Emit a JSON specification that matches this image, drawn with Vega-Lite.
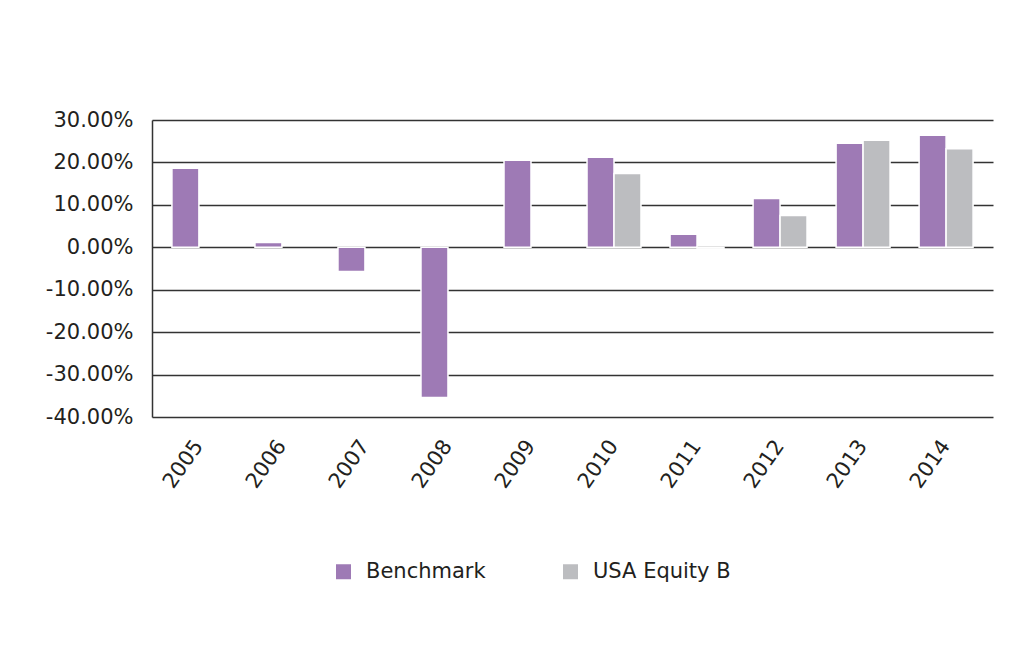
{
  "$schema": "https://vega.github.io/schema/vega-lite/v6.json",
  "autosize": {"type": "none"},
  "width": 841,
  "height": 297,
  "padding": {"left": 152, "top": 120, "right": 33, "bottom": 252},
  "background": "white",
  "data": {
    "values": [
      {"year": "2005", "series": "Benchmark", "ret": 0.186},
      {"year": "2006", "series": "Benchmark", "ret": 0.011},
      {"year": "2007", "series": "Benchmark", "ret": -0.057},
      {"year": "2008", "series": "Benchmark", "ret": -0.354},
      {"year": "2009", "series": "Benchmark", "ret": 0.205},
      {"year": "2010", "series": "Benchmark", "ret": 0.212},
      {"year": "2010", "series": "USA Equity B", "ret": 0.174},
      {"year": "2011", "series": "Benchmark", "ret": 0.031},
      {"year": "2011", "series": "USA Equity B", "ret": -0.002},
      {"year": "2012", "series": "Benchmark", "ret": 0.115},
      {"year": "2012", "series": "USA Equity B", "ret": 0.075},
      {"year": "2013", "series": "Benchmark", "ret": 0.245},
      {"year": "2013", "series": "USA Equity B", "ret": 0.252},
      {"year": "2014", "series": "Benchmark", "ret": 0.264},
      {"year": "2014", "series": "USA Equity B", "ret": 0.232}
    ]
  },
  "mark": {"type": "bar", "stroke": "white", "strokeWidth": 1.5},
  "encoding": {
    "x": {
      "field": "year",
      "type": "nominal",
      "scale": {"paddingInner": 0.35, "paddingOuter": 0.24},
      "axis": {
        "title": null,
        "domain": false,
        "ticks": false,
        "labelAngle": -55,
        "labelFont": "DejaVu Sans",
        "labelFontSize": 21,
        "labelColor": "#231f20",
        "labelPadding": 25,
        "labelDx": 4
      }
    },
    "xOffset": {
      "field": "series",
      "type": "nominal",
      "scale": {"domain": ["Benchmark", "USA Equity B"], "paddingInner": 0.0}
    },
    "y": {
      "field": "ret",
      "type": "quantitative",
      "scale": {"domain": [-0.4, 0.3], "nice": false, "zero": false},
      "axis": {
        "title": null,
        "values": [-0.4, -0.3, -0.2, -0.1, 0, 0.1, 0.2, 0.3],
        "labelExpr": "replace(format(datum.value, '.2%'), '\u2212', '-')",
        "ticks": false,
        "domain": true,
        "domainColor": "#333333",
        "domainWidth": 1.5,
        "grid": true,
        "gridColor": "#333333",
        "gridWidth": 1.5,
        "labelFont": "DejaVu Sans",
        "labelFontSize": 21,
        "labelColor": "#231f20",
        "labelPadding": 19
      }
    },
    "color": {
      "field": "series",
      "type": "nominal",
      "scale": {"domain": ["Benchmark", "USA Equity B"], "range": ["#9e7ab5", "#bcbdc0"]},
      "legend": {
        "title": null,
        "orient": "none",
        "legendX": 181,
        "legendY": 441,
        "direction": "horizontal",
        "symbolType": "square",
        "symbolSize": 225,
        "symbolStrokeWidth": 0,
        "labelFont": "DejaVu Sans",
        "labelFontSize": 21,
        "labelColor": "#231f20",
        "labelOffset": 12,
        "columnPadding": 74
      }
    }
  },
  "config": {"view": {"stroke": null}}
}
